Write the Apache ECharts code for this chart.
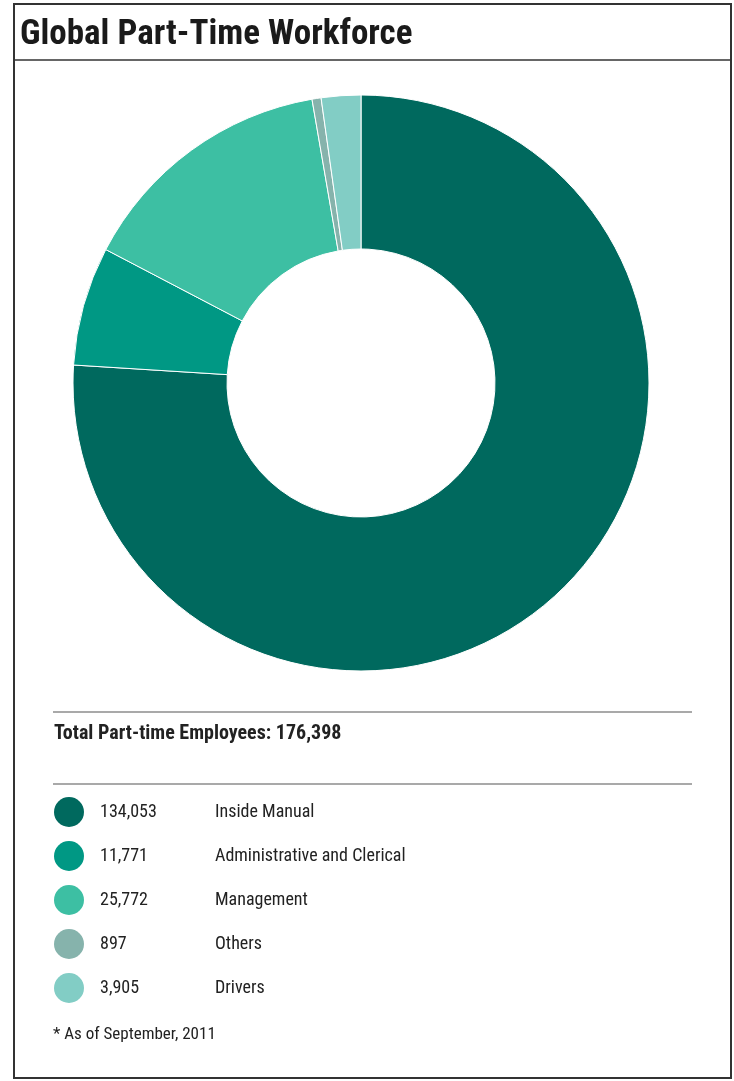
<!DOCTYPE html>
<html>
<head>
<meta charset="utf-8">
<script src="https://cdn.jsdelivr.net/npm/echarts@6/dist/echarts.min.js"></script>
<style>
  html, body { margin: 0; padding: 0; background: #fff; }
  #chart { width: 734px; height: 1081px; }
</style>
</head>
<body>
<div id="chart"></div>
<script>
const categories = ['Inside Manual', 'Administrative and Clerical', 'Management', 'Others', 'Drivers'];
const employees = [134053, 11771, 25772, 897, 3905];
const colors = ['#00695e', '#009884', '#3dbfa3', '#86b3ac', '#82cdc5'];

const FONT = '"Liberation Sans Narrow", "Roboto Condensed", Roboto, sans-serif';
const total = employees.reduce((a, b) => a + b, 0);
const fmt = v => v.toLocaleString('en-US');

const chart = echarts.init(document.getElementById('chart'));

chart.setOption({
  animation: false,
  color: colors,
  title: {
    text: 'Global Part-Time Workforce',
    left: 15,
    top: 13,
    textStyle: { fontFamily: FONT, fontSize: 35, fontWeight: 'bold', color: '#1a1a1a' }
  },
  legend: {
    orient: 'vertical',
    left: 54,
    top: 797,
    padding: 0,
    icon: 'circle',
    itemWidth: 30,
    itemHeight: 30,
    itemGap: 14,
    selectedMode: false,
    itemStyle: { borderWidth: 0 },
    data: categories,
    formatter: function (name) {
      const i = categories.indexOf(name);
      return '{v|' + fmt(employees[i]) + '}{n|' + name + '}';
    },
    textStyle: {
      rich: {
        v: { fontFamily: FONT, fontSize: 18, lineHeight: 22, color: '#222', width: 115, padding: [0, 0, 0, 11] },
        n: { fontFamily: FONT, fontSize: 18, lineHeight: 22, color: '#222' }
      }
    }
  },
  graphic: [
    { type: 'rect', shape: { x: 14, y: 4, width: 717, height: 1074 }, style: { fill: 'none', stroke: '#333', lineWidth: 2 } },
    { type: 'line', shape: { x1: 14, y1: 60, x2: 731, y2: 60 }, style: { stroke: '#333', lineWidth: 1.5 } },
    { type: 'line', shape: { x1: 53, y1: 712, x2: 692, y2: 712 }, style: { stroke: '#555', lineWidth: 1.2 } },
    { type: 'line', shape: { x1: 53, y1: 784, x2: 692, y2: 784 }, style: { stroke: '#555', lineWidth: 1.2 } },
    {
      type: 'text', left: 54, top: 724,
      style: { text: 'Total Part-time Employees: ' + fmt(total), fontFamily: FONT, fontSize: 20, fontWeight: 'bold', fill: '#222' }
    },
    {
      type: 'text', left: 53, top: 1026,
      style: { text: '* As of September, 2011', fontFamily: FONT, fontSize: 17, fill: '#222' }
    }
  ],
  series: [{
    type: 'pie',
    center: [361, 383],
    radius: [134, 288],
    startAngle: 90,
    clockwise: true,
    label: { show: false },
    labelLine: { show: false },
    silent: true,
    itemStyle: { borderColor: '#fff', borderWidth: 1 },
    data: categories.map((c, i) => ({ name: c, value: employees[i] }))
  }]
});
</script>
</body>
</html>
